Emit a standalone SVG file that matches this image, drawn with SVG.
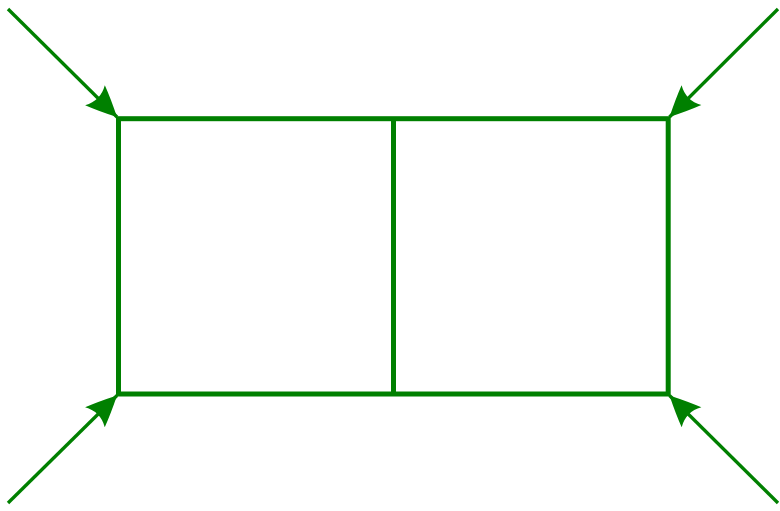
<svg xmlns="http://www.w3.org/2000/svg" width="780" height="511" viewBox="0 0 780 511">
<defs>
<style>
.box{fill:none;stroke:#008000;stroke-width:5}
.edge{fill:none;stroke:#008000;stroke-width:3.3}
</style>
<marker id="ah" markerUnits="userSpaceOnUse" orient="auto" refX="0" refY="0" viewBox="-34 -17 36 34" markerWidth="36" markerHeight="34">
<path d="M0,0 Q-18,-9 -31,-14 Q-23,0 -31,14 Q-18,9 0,0 Z" fill="#008000"/>
</marker>
</defs>
<g id="box">
<rect class="box" x="118.5" y="118.7" width="549.7" height="275.3"/>
<line class="box" x1="393.5" y1="118.7" x2="393.5" y2="394"/>
</g>
<g id="connectors">
<line class="edge" x1="8" y1="9" x2="117" y2="117" marker-end="url(#ah)"/>
<line class="edge" x1="778" y1="9" x2="669.5" y2="117" marker-end="url(#ah)"/>
<line class="edge" x1="8" y1="503" x2="117" y2="395.5" marker-end="url(#ah)"/>
<line class="edge" x1="778" y1="503" x2="669.5" y2="395.5" marker-end="url(#ah)"/>
</g>
</svg>
